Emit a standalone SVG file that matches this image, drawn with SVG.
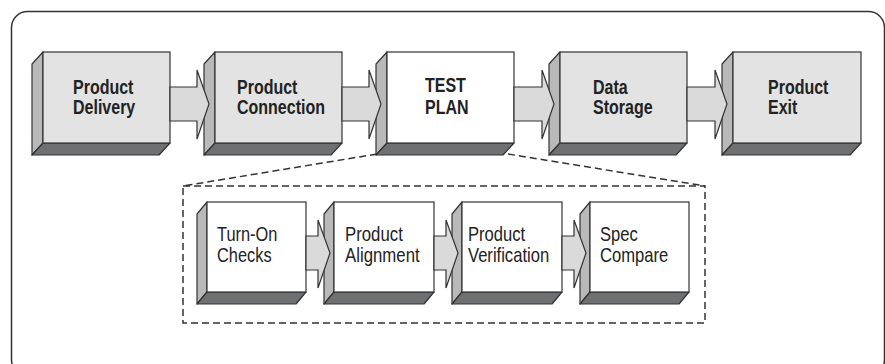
<svg xmlns="http://www.w3.org/2000/svg" width="885" height="364" viewBox="0 0 885 364">
<style>
.front{fill:#e3e3e3;stroke:#333;stroke-width:1.2}
.fw{fill:#ffffff;stroke:#333;stroke-width:1.2}
.side{fill:#b9b9b9;stroke:#333;stroke-width:1.2;stroke-linejoin:round}
.bot{fill:#6f7072;stroke:#333;stroke-width:1.2;stroke-linejoin:round}
.arr{fill:#dadada;stroke:#333;stroke-width:1.2;stroke-linejoin:miter}
.tb{font-family:"Liberation Sans",Arial,sans-serif;font-weight:bold;font-size:20px;fill:#222}
.tr{font-family:"Liberation Sans",Arial,sans-serif;font-size:20px;fill:#222}
.dash{fill:none;stroke:#333;stroke-width:1.5;stroke-dasharray:7,4}
</style>
<rect x="11.5" y="11.5" width="873" height="364" rx="16" fill="#fff" stroke="#333" stroke-width="1.5"/>

<g id="dashed-zoom">
<path class="dash" d="M377,154 L183,186 M508,154 L705,186"/>
<rect class="dash" x="183" y="186" width="522" height="137"/>
</g>

<g id="product-delivery">
<polygon class="side" points="43,52 43,143 32,155 32,64"/>
<polygon class="bot" points="43,143 170,143 159,155 32,155"/>
<rect class="front" x="43" y="52" width="127" height="91"/>
<text class="tb" transform="translate(73,0) scale(0.8,1)"><tspan x="0" y="94">Product</tspan><tspan x="0" y="114">Delivery</tspan></text>
</g>
<g id="product-connection">
<polygon class="side" points="215,52 215,143 204,155 204,64"/>
<polygon class="bot" points="215,143 342,143 331,155 204,155"/>
<rect class="front" x="215" y="52" width="127" height="91"/>
<text class="tb" transform="translate(237,0) scale(0.8,1)"><tspan x="0" y="94">Product</tspan><tspan x="0" y="114">Connection</tspan></text>
</g>
<g id="test-plan">
<polygon class="side" points="387,52 387,143 376,155 376,64"/>
<polygon class="bot" points="387,143 514,143 503,155 376,155"/>
<rect class="fw" x="387" y="52" width="127" height="91"/>
<text class="tb" transform="translate(425,0) scale(0.8,1)"><tspan x="0" y="92">TEST</tspan><tspan x="0" y="114">PLAN</tspan></text>
</g>
<g id="data-storage">
<polygon class="side" points="560,52 560,143 549,155 549,64"/>
<polygon class="bot" points="560,143 687,143 676,155 549,155"/>
<rect class="front" x="560" y="52" width="127" height="91"/>
<text class="tb" transform="translate(593,0) scale(0.8,1)"><tspan x="0" y="94">Data</tspan><tspan x="0" y="114">Storage</tspan></text>
</g>
<g id="product-exit">
<polygon class="side" points="733,52 733,143 722,155 722,64"/>
<polygon class="bot" points="733,143 861,143 850,155 722,155"/>
<rect class="front" x="733" y="52" width="128" height="91"/>
<text class="tb" transform="translate(768,0) scale(0.8,1)"><tspan x="0" y="94">Product</tspan><tspan x="0" y="114">Exit</tspan></text>
</g>

<g id="turn-on-checks">
<polygon class="side" points="207,202 207,292 197,304 197,214"/>
<polygon class="bot" points="207,292 306,292 296,304 197,304"/>
<rect class="fw" x="207" y="202" width="99" height="90"/>
<text class="tr" transform="translate(217,0) scale(0.82,1)"><tspan x="0" y="241">Turn-On</tspan><tspan x="0" y="262">Checks</tspan></text>
</g>
<g id="product-alignment">
<polygon class="side" points="334,202 334,292 324,304 324,214"/>
<polygon class="bot" points="334,292 434,292 424,304 324,304"/>
<rect class="fw" x="334" y="202" width="100" height="90"/>
<text class="tr" transform="translate(345,0) scale(0.84,1)"><tspan x="0" y="241">Product</tspan><tspan x="0" y="262">Alignment</tspan></text>
</g>
<g id="product-verification">
<polygon class="side" points="462,202 462,292 452,304 452,214"/>
<polygon class="bot" points="462,292 562,292 552,304 452,304"/>
<rect class="fw" x="462" y="202" width="100" height="90"/>
<text class="tr" transform="translate(468,0) scale(0.83,1)"><tspan x="0" y="241">Product</tspan><tspan x="0" y="262">Verification</tspan></text>
</g>
<g id="spec-compare">
<polygon class="side" points="590,202 590,292 580,304 580,214"/>
<polygon class="bot" points="590,292 689,292 679,304 580,304"/>
<rect class="fw" x="590" y="202" width="99" height="90"/>
<text class="tr" transform="translate(600,0) scale(0.83,1)"><tspan x="0" y="241">Spec</tspan><tspan x="0" y="262">Compare</tspan></text>
</g>

<g id="connectors">
<polygon class="arr" points="170,87 197,87 197,70 209,104 197,139 197,121 170,121"/>
<polygon class="arr" points="342,87 369,87 369,70 381,104 369,139 369,121 342,121"/>
<polygon class="arr" points="514,87 542,87 542,70 554,104 542,139 542,121 514,121"/>
<polygon class="arr" points="687,87 715,87 715,70 727,104 715,139 715,121 687,121"/>
<polygon class="arr" points="306,236 318,236 318,220 330,253 318,288 318,270 306,270"/>
<polygon class="arr" points="434,236 446,236 446,220 458,253 446,288 446,270 434,270"/>
<polygon class="arr" points="562,236 574,236 574,220 586,253 574,288 574,270 562,270"/>
</g>
</svg>
